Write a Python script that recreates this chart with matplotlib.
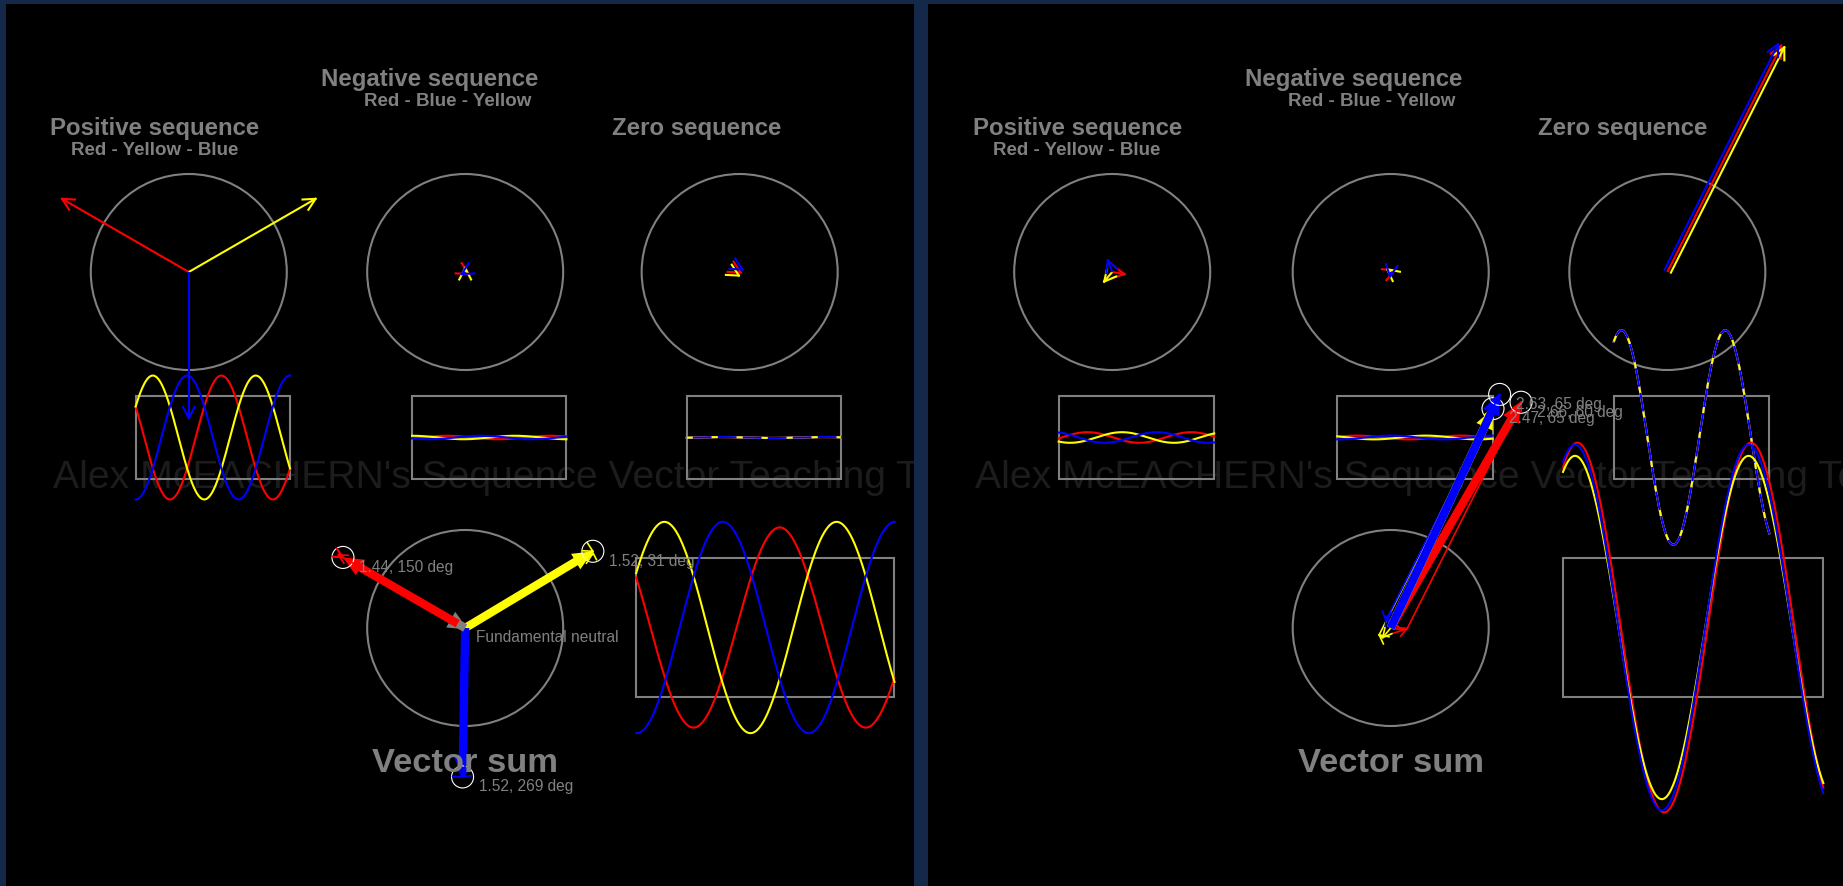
import numpy as np
import matplotlib.pyplot as plt
from matplotlib.patches import Circle, Rectangle, Polygon

plt.rcParams['font.family'] = ['Liberation Sans', 'DejaVu Sans']

# phase order of the positive sequence: red -> yellow -> blue
phase_colors = ['#ff0000', '#ffff00', '#0000ff']

# fundamental phasors (almost balanced)
left_mags = [1.44, 1.52, 1.52]
left_degs = [150, 31, 269]

# fundamental phasors (mostly zero sequence)
right_mags = [2.66, 2.47, 2.63]
right_degs = [60, 65, 65]

titles = ['Positive sequence', 'Negative sequence', 'Zero sequence']
subtitles = ['Red - Yellow - Blue', 'Red - Blue - Yellow', '']
watermark = "Alex McEACHERN's Sequence Vector Teaching Tool"

GRAY = '#808080'
SCALE = 98      # pixels per unit on the phasor circles
H = 882         # panel height in pixels
a = np.exp(2j * np.pi / 3)


def components(mags, degs):
    va, vb, vc = [m * np.exp(1j * np.radians(d)) for m, d in zip(mags, degs)]
    v0 = (va + vb + vc) / 3
    v1 = (va + a * vb + a * a * vc) / 3
    v2 = (va + a * a * vb + a * vc) / 3
    pos = [v1, a * a * v1, a * v1]
    neg = [v2, a * v2, a * a * v2]
    zero = [v0, v0, v0]
    return pos, neg, zero


def thin_arrow(ax, x0, y0, z, color, lw=1.5, head=13, off=(0, 0)):
    ang = np.angle(z)
    x0, y0 = x0 + off[0], y0 + off[1]
    x1, y1 = x0 + SCALE * z.real, y0 - SCALE * z.imag
    ax.plot([x0, x1], [y0, y1], color=color, lw=lw, solid_capstyle='butt')
    for s in (-1, 1):
        t = ang + np.pi + s * np.radians(27)
        ax.plot([x1, x1 + head * np.cos(t)], [y1, y1 - head * np.sin(t)],
                color=color, lw=lw)
    return x1 - off[0], y1 - off[1]


def thick_arrow(ax, x0, y0, z, color):
    d = np.array([np.cos(np.angle(z)), -np.sin(np.angle(z))])
    p = np.array([-d[1], d[0]])
    tip = np.array([x0 + SCALE * z.real, y0 - SCALE * z.imag])
    base = tip - 20 * d
    stem = tip - 12 * d
    ax.plot([x0, stem[0]], [y0, stem[1]], color=color, lw=6, solid_capstyle='butt')
    ax.add_patch(Polygon([tip, base + 9 * p, base - 9 * p], closed=True,
                         color=color, lw=0))
    return tip


def waves(ax, x0, top, w, h, phasors, colors, dashed_yellow=False):
    t = np.linspace(0, 3 * np.pi, 240)
    xs = x0 + w * t / (3 * np.pi)
    for z, c in zip(phasors, colors):
        ys = top + h / 2 - (h / 2) * abs(z) * np.sin(t + np.angle(z))
        ax.plot(xs, ys, color=c, lw=1.5)
    if dashed_yellow:
        z = phasors[1]
        ys = top + h / 2 - (h / 2) * abs(z) * np.sin(t + np.angle(z))
        ax.plot(xs, ys, color=colors[1], lw=1.5, dashes=(3, 9))


def draw_panel(ax, W, mags, degs, show_neutral):
    ax.set_xlim(0, W)
    ax.set_ylim(H, 0)
    ax.set_facecolor('black')
    ax.set_xticks([])
    ax.set_yticks([])
    for s in ax.spines.values():
        s.set_visible(False)

    pos, neg, zero = components(mags, degs)

    wm = ax.text(47, 484, watermark, color='#1c1c1c', fontsize=28.2,
                 va='baseline', ha='left', zorder=0, clip_on=True)
    wm.set_clip_box(ax.bbox)

    title_x = [.0488, .3467, .667]
    title_y = [131, 82, 131]
    sub_x = [.0712, .3938, 0]
    sub_y = [151, 102, 0]
    circ_x = [.2013, .5057, .808]
    cy = 268
    zero_off = [0, -3.5, 3.5]

    for k, (title, sub, comp) in enumerate(zip(titles, subtitles, [pos, neg, zero])):
        ax.text(title_x[k] * W, title_y[k], title, color=GRAY, fontsize=17.3,
                fontweight='bold', va='baseline', ha='left')
        if sub:
            ax.text(sub_x[k] * W, sub_y[k], sub, color=GRAY, fontsize=13.5,
                    fontweight='bold', va='baseline', ha='left')
        cx = circ_x[k] * W
        ax.add_patch(Circle((cx, cy), SCALE, fill=False, ec=GRAY, lw=1.5))
        bx = cx - .0585 * W
        ax.add_patch(Rectangle((bx, 392), .170 * W, 83, fill=False, ec=GRAY, lw=1.5))
        for i in range(3):
            off = (0, 0)
            if k == 2:
                # identical zero sequence vectors, nudged apart so all show
                ang = np.angle(comp[i])
                off = (-np.sin(ang) * zero_off[i], -np.cos(ang) * zero_off[i])
            thin_arrow(ax, cx, cy, comp[i], phase_colors[i], off=off)
        waves(ax, bx, 392, .170 * W, 83, comp, phase_colors, dashed_yellow=(k == 2))

    # vector sum
    vx, vy = circ_x[1] * W, 624
    ax.add_patch(Circle((vx, vy), SCALE, fill=False, ec=GRAY, lw=1.5))
    ax.text(vx, 768, 'Vector sum', color=GRAY, fontsize=24.8, fontweight='bold',
            ha='center', va='baseline')

    for i in range(3):
        x, y = vx, vy
        for comp in (pos, neg, zero):
            x, y = thin_arrow(ax, x, y, comp[i], phase_colors[i], lw=1.2, head=10)
    for i in range(3):
        z = mags[i] * np.exp(1j * np.radians(degs[i]))
        tip = thick_arrow(ax, vx, vy, z, phase_colors[i])
        ax.add_patch(Circle(tip, 11, fill=False, ec='white', lw=0.8))
        ax.text(tip[0] + 16, tip[1] + 10, f'{mags[i]:.2f}, {degs[i]} deg',
                color=GRAY, fontsize=11.2, va='center', ha='left')

    if show_neutral:
        thick_arrow(ax, vx, vy, 3 * zero[0], GRAY)
        ax.text(vx + 11, vy + 9, 'Fundamental neutral', color=GRAY,
                fontsize=11.2, va='center', ha='left')

    # phase waveforms
    bx = .694 * W
    phasors = [m * np.exp(1j * np.radians(d)) for m, d in zip(mags, degs)]
    ax.add_patch(Rectangle((bx, 554), .2845 * W, 139, fill=False, ec=GRAY, lw=1.5))
    waves(ax, bx, 554, .2845 * W, 139, phasors, phase_colors)


fig = plt.figure(figsize=(18.43, 8.86), dpi=100, facecolor='#14294a')
ax_left = fig.add_axes([6 / 1843, 0, 908 / 1843, H / 886])
ax_right = fig.add_axes([928 / 1843, 0, 915 / 1843, H / 886])

draw_panel(ax_left, 908, left_mags, left_degs, True)
draw_panel(ax_right, 915, right_mags, right_degs, False)

fig.savefig('out.png', dpi=100, facecolor=fig.get_facecolor())
